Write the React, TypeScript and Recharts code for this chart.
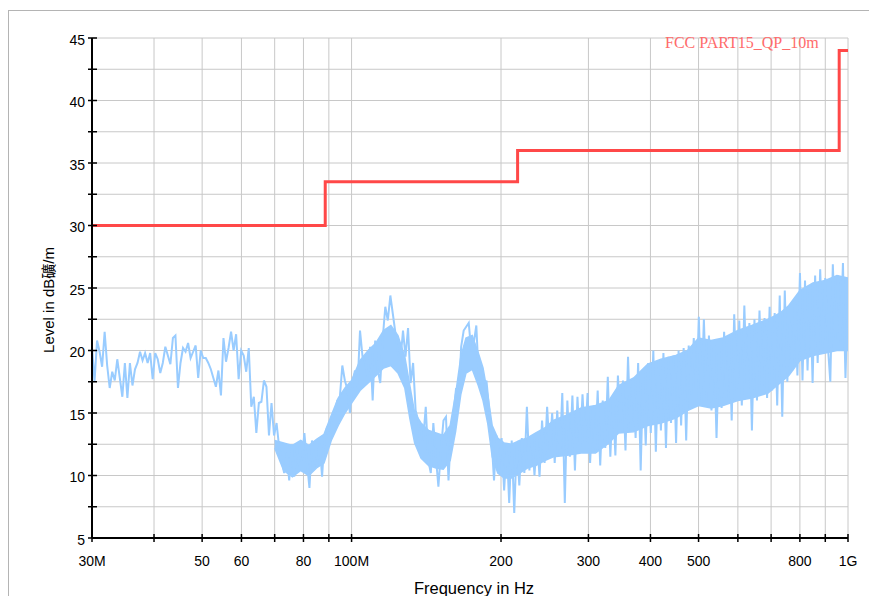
import React from 'react';
import { ComposedChart, Line, Area, XAxis, YAxis, CartesianGrid, Legend, Label } from 'recharts';

// Receiver sweep: 30 MHz .. 1 GHz, log-spaced sweep points
const sweepStartMHz = 30;
const sweepStopMHz = 1000;

const levels = [
  20.3, 17.5, 20.8, 19.9, 18.7, 21.5, 18.8, 17.0, 18.3, 17.6,
  19.3, 17.8, 16.3, 19.0, 16.2, 19.0, 17.2, 18.5, 19.0, 19.9,
  19.2, 19.8, 19.0, 19.8, 17.7, 19.8, 19.3, 18.2, 19.0, 20.3,
  19.6, 18.9, 21.0, 21.2, 17.0, 19.0, 20.2, 19.9, 20.6, 19.4,
  19.9, 20.4, 17.8, 20.0, 19.4, 19.4, 19.0, 18.5, 17.8, 17.1,
  18.4, 16.4, 21.0, 19.1, 20.2, 21.5, 20.0, 21.3, 17.7, 20.0,
  19.6,
  18.3, 20.2, 15.5, 16.3, 13.4, 15.8, 15.9, 17.6, 17.1, 13.2,
  15.8, 13.2, 14.2, 12.3, 11.2, 10.2, 11.8, 9.6, 12.5, 9.9,
  12.6, 10.7, 11.2, 13.4, 11.1, 9.0, 12.8, 11.2, 10.7, 12.6,
  9.9, 13.1, 13.9, 12.5, 14.5, 15.0, 16.0, 16.2, 18.8, 17.6,
  16.9, 15.0, 17.4, 18.4, 17.0, 21.6, 19.5, 19.0, 17.8, 20.3,
  16.0, 20.8, 18.5, 17.4, 21.0, 23.5, 22.4, 24.4, 22.9, 21.4,
  19.8, 19.2, 21.6, 19.5, 21.8, 17.4, 19.0, 15.2, 14.4, 12.3,
  12.9, 15.5, 11.2, 10.2, 14.2, 11.5, 9.1, 12.0, 14.4, 14.7,
  9.6, 13.6, 15.0, 17.0, 16.0, 20.3, 21.6, 21.9, 22.2, 19.9,
  20.6, 22.0, 17.6, 16.8, 16.3, 17.6, 15.5, 13.0, 9.6, 13.2,
  10.4, 13.0, 8.8, 12.4, 7.8, 12.8, 7.0, 12.6, 9.2, 13.0,
  10.2, 15.5, 10.4, 13.2, 10.0, 13.0, 9.9, 14.4, 11.0, 15.5,
  12.0,
  15.0, 11.0, 15.2, 11.6, 16.6, 7.8, 16.0, 11.5, 16.4, 10.4,
  16.3, 12.2, 16.5, 12.6, 16.6, 11.0, 15.5, 12.0, 16.8, 10.8,
  16.0, 12.2, 17.9, 11.5, 16.2, 11.6, 18.0, 14.2, 17.6, 12.0,
  19.5, 13.5, 17.8, 13.0, 19.0, 10.4, 18.2, 12.4, 19.0, 13.4,
  20.0, 11.9, 19.2, 13.6, 19.8, 12.2, 19.5, 14.2, 19.6, 12.6,
  20.0, 14.0, 20.2, 12.8, 20.4, 16.5, 21.0, 16.0, 22.7, 15.8,
  22.5, 16.0, 21.2, 15.2, 20.6, 13.0, 20.2, 15.4, 21.5, 16.2,
  21.0, 14.4, 22.9, 16.6, 22.4, 15.6, 23.6, 17.2, 22.2, 13.6,
  22.5, 16.0, 23.2, 17.0, 22.6, 16.2, 23.5, 16.8, 23.0, 15.6,
  24.4, 14.7, 24.8, 17.5, 22.4, 18.4, 24.0, 18.0, 26.2, 17.6,
  25.6, 18.4, 25.2, 17.4, 26.0, 19.0, 26.5, 20.2, 25.8, 20.5,
  17.5, 26.9, 20.8, 26.0, 20.4, 27.0, 17.8, 25.0,
];

// Dense part of the trace (where the sweep points overlap into a solid band)
const bandFreqs = [
  70, 73, 76, 79, 82, 85, 88, 91, 94, 97,
  100, 104, 108, 112, 116, 120, 124, 128, 131, 134,
  138, 143, 148, 153, 158, 162, 166, 170, 175, 180,
  184, 188, 192, 197, 203, 210, 218, 226, 235, 245,
  255, 270, 290, 310, 330, 345, 370, 395, 420, 450,
  475, 500, 530, 560, 600, 640, 690, 730, 760, 800,
  850, 900, 950, 1000,
];
const bandLow = [
  12.2, 10.4, 9.9, 10.4, 10.0, 10.6, 11.0, 12.8, 14.0, 15.0,
  15.8, 16.8, 17.4, 18.0, 18.6, 18.8, 18.2, 17.0, 14.6, 12.6,
  11.4, 10.8, 10.6, 10.5, 11.2, 13.5, 16.5, 18.2, 18.5, 17.2,
  16.0, 14.2, 11.5, 10.2, 9.8, 9.8, 10.2, 10.6, 10.8, 11.2,
  11.5, 11.6, 11.8, 11.8, 12.6, 13.4, 13.5, 14.0, 14.2, 14.6,
  15.2, 15.6, 15.4, 15.6, 16.0, 16.2, 16.6, 17.4, 18.0, 19.2,
  19.6, 19.8, 20.0, 20.0,
];
const bandHigh = [
  12.8, 12.6, 12.4, 12.8, 12.4, 12.9, 13.3, 14.8, 16.2, 17.0,
  17.6, 19.2, 20.0, 20.6, 21.6, 22.0, 21.2, 19.5, 17.2, 15.0,
  14.2, 13.6, 13.4, 13.2, 14.0, 16.5, 19.5, 21.0, 21.2, 19.8,
  18.6, 16.5, 14.0, 13.0, 12.6, 12.5, 12.8, 13.0, 13.4, 13.8,
  14.4, 14.8, 15.4, 15.6, 16.0, 17.2, 17.8, 18.9, 19.3, 19.6,
  20.0, 21.0, 20.8, 21.0, 21.6, 22.0, 22.5, 23.0, 23.6, 24.8,
  25.4, 25.6, 26.0, 25.8,
];

// Limit line FCC Part 15 QP 10 m
const limitName = 'FCC PART15_QP_10m';
const limitFreqs = [30, 88.5, 216, 960, 1000];
const limitLevels = [30, 33.5, 36, 44, 44];

// Axis ticks
const xTicks = [30, 40, 50, 60, 70, 80, 90, 100, 200, 300, 400, 500, 600, 700, 800, 900, 1000];
const xTickLabels = ['30M', '', '50', '60', '', '80', '', '100M', '200', '300', '400', '500', '', '', '800', '', '1G'];
const yTicks = [5, 7.5, 10, 12.5, 15, 17.5, 20, 22.5, 25, 27.5, 30, 32.5, 35, 37.5, 40, 42.5, 45];
const yTickLabels = ['5', '', '10', '', '15', '', '20', '', '25', '', '30', '', '35', '', '40', '', '45'];

const xTitle = 'Frequency in Hz';
const yTitle = 'Level in dB礦/m';

const traceData = levels.map((v, i) => ({
  f: sweepStartMHz * Math.pow(sweepStopMHz / sweepStartMHz, i / (levels.length - 1)),
  v,
}));
const bandData = bandFreqs.map((f, i) => ({ f, range: [bandLow[i], bandHigh[i]] }));
const limitData = limitFreqs.map((f, i) => ({ f, v: limitLevels[i] }));

const FONT = "'Liberation Sans', Arial, 'Noto Sans CJK SC', sans-serif";
const TRACE = '#99ccff';

const XTick = (props: any) => {
  const { x, y, payload } = props;
  const idx = xTicks.indexOf(payload.value);
  const label = idx >= 0 ? xTickLabels[idx] : '';
  return (
    <g>
      <line x1={x} x2={x} y1={y - 4} y2={y + 4} stroke="#000" strokeWidth={1.5} />
      <text x={x} y={y + 27.5} textAnchor="middle" fontSize={14} fill="#000" fontFamily={FONT}>
        {label}
      </text>
    </g>
  );
};

const YTick = (props: any) => {
  const { x, y, payload } = props;
  const idx = yTicks.indexOf(payload.value);
  const label = idx >= 0 ? yTickLabels[idx] : '';
  return (
    <g>
      <line x1={x - 4} x2={x + 5} y1={y} y2={y} stroke="#000" strokeWidth={1.5} />
      <text x={x - 7} y={y + 6.5} textAnchor="end" fontSize={14} fill="#000" fontFamily={FONT}>
        {label}
      </text>
    </g>
  );
};

const XTitle = (props: any) => {
  const vb = props.viewBox || {};
  return (
    <text x={vb.x + vb.width / 2 + 4} y={vb.y + 56} textAnchor="middle" fontSize={16.5} fill="#000" fontFamily={FONT}>
      {xTitle}
    </text>
  );
};

const YTitle = (props: any) => {
  const vb = props.viewBox || {};
  const cx = vb.x + vb.width - 44;
  const cy = vb.y + vb.height / 2 + 12;
  return (
    <text
      x={cx}
      y={cy}
      transform={`rotate(-90 ${cx} ${cy})`}
      textAnchor="middle"
      dominantBaseline="central"
      fontSize={15}
      fill="#000"
      fontFamily={FONT}
    >
      {yTitle}
    </text>
  );
};

const LegendContent = () => (
  <div
    style={{
      fontFamily: "'Liberation Serif', 'Times New Roman', serif",
      fontSize: 16,
      lineHeight: '16px',
      color: '#ff6b6b',
      whiteSpace: 'nowrap',
    }}
  >
    {limitName}
  </div>
);

export default function App() {
  return (
    <div style={{ position: 'fixed', left: 8, top: 8, width: 861, height: 588, background: '#fff' }}>
      <div
        style={{
          position: 'absolute',
          left: 0,
          top: 2,
          right: 0,
          bottom: 0,
          borderTop: '1px solid #b4b4b4',
          borderLeft: '1px solid #b4b4b4',
        }}
      />
      <div style={{ position: 'absolute', left: 0, top: 0 }}>
        <ComposedChart width={861} height={588} margin={{ top: 30, right: 21, left: 0, bottom: 0 }}>
          <CartesianGrid stroke="#c8c8c8" strokeWidth={1} />
          <XAxis
            type="number"
            dataKey="f"
            scale="log"
            domain={[30, 1000]}
            allowDataOverflow
            ticks={xTicks}
            interval={0}
            height={58}
            tickSize={0}
            tickMargin={0}
            tickLine={false}
            tick={<XTick />}
            axisLine={{ stroke: '#000', strokeWidth: 2 }}
          >
            <Label content={<XTitle />} />
          </XAxis>
          <YAxis
            type="number"
            domain={[5, 45]}
            allowDataOverflow
            ticks={yTicks}
            interval={0}
            width={84}
            tickSize={0}
            tickMargin={0}
            tickLine={false}
            tick={<YTick />}
            axisLine={{ stroke: '#000', strokeWidth: 2 }}
          >
            <Label content={<YTitle />} />
          </YAxis>
          <Legend
            layout="vertical"
            verticalAlign="middle"
            align="center"
            content={<LegendContent />}
            wrapperStyle={{ position: 'absolute', left: 657, top: 27, width: 'auto', height: 'auto' }}
          />
          <Area
            data={bandData}
            dataKey="range"
            type="linear"
            stroke={TRACE}
            strokeWidth={1.5}
            fill={TRACE}
            fillOpacity={1}
            dot={false}
            activeDot={false}
            isAnimationActive={false}
            legendType="none"
          />
          <Line
            data={traceData}
            dataKey="v"
            type="linear"
            stroke={TRACE}
            strokeWidth={2}
            dot={false}
            isAnimationActive={false}
            legendType="none"
          />
          <Line
            data={limitData}
            dataKey="v"
            name={limitName}
            type="stepAfter"
            stroke="#ff4848"
            strokeWidth={3}
            dot={false}
            isAnimationActive={false}
          />
        </ComposedChart>
      </div>
    </div>
  );
}
